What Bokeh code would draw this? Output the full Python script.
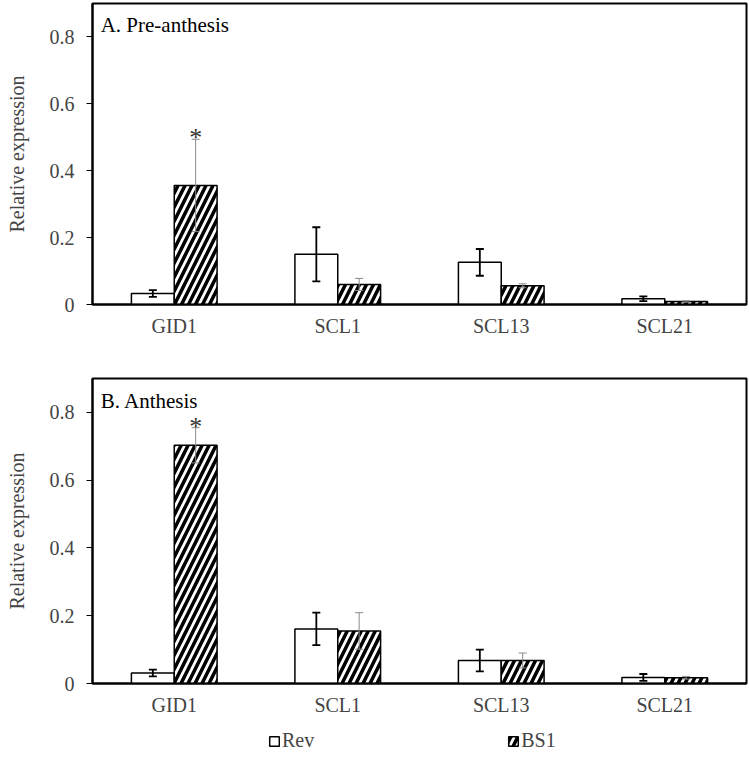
from bokeh.plotting import figure
from bokeh.layouts import column
from bokeh.models import (FactorRange, Range1d, FixedTicker, ColumnDataSource,
                          Legend, LegendItem, Label)
from bokeh.transform import dodge
from bokeh.embed import file_html
from bokeh.resources import INLINE

# Genes and relative expression (mean and error) for the two lines
genes = ["GID1", "SCL1", "SCL13", "SCL21"]

pre_rev = [0.033, 0.150, 0.126, 0.017]
pre_rev_err = [0.010, 0.081, 0.040, 0.007]
pre_bs1 = [0.356, 0.060, 0.056, 0.009]
pre_bs1_err = [0.138, 0.018, 0.006, 0.002]
pre_marks = ["*", "", "", ""]

ant_rev = [0.031, 0.161, 0.068, 0.018]
ant_rev_err = [0.010, 0.048, 0.032, 0.010]
ant_bs1 = [0.703, 0.155, 0.068, 0.017]
ant_bs1_err = [0.052, 0.054, 0.022, 0.004]
ant_marks = ["*", "", "", ""]

y_ticks = [0, 0.2, 0.4, 0.6, 0.8]
series_names = ["Rev", "BS1"]

FONT = "Liberation Serif"
FS = "20px"
BAR_W = 0.262
OFF = BAR_W / 2

REV_STYLE = dict(fill_color="white", line_color="black", line_width=1.5)
BS1_STYLE = dict(fill_color="white", line_color="black", line_width=1.5,
                 hatch_pattern="/", hatch_color="black",
                 hatch_weight=3.5, hatch_scale=14)


def panel(title, rev, rev_err, bs1, bs1_err, marks, height, b_top, b_bottom):
    src = ColumnDataSource(dict(
        gene=genes,
        rev=rev,
        rev_lo=[v - e for v, e in zip(rev, rev_err)],
        rev_hi=[v + e for v, e in zip(rev, rev_err)],
        bs1=bs1,
        bs1_lo=[v - e for v, e in zip(bs1, bs1_err)],
        bs1_hi=[v + e for v, e in zip(bs1, bs1_err)],
        mark=marks,
    ))
    p = figure(x_range=FactorRange(*genes), y_range=Range1d(0, 0.9),
               width=749, height=height, output_backend="svg",
               toolbar_location=None, min_border_left=92, min_border_right=3,
               min_border_top=b_top, min_border_bottom=b_bottom)
    p.background_fill_color = "white"
    p.border_fill_color = "white"
    p.outline_line_color = "black"
    p.outline_line_width = 2
    p.xgrid.visible = False
    p.ygrid.visible = False

    x_rev = dodge("gene", -OFF, range=p.x_range)
    x_bs1 = dodge("gene", OFF, range=p.x_range)

    p.vbar(x=x_rev, top="rev", width=BAR_W, source=src, **REV_STYLE)
    p.vbar(x=x_bs1, top="bs1", width=BAR_W, source=src, **BS1_STYLE)

    # error bars: Rev dark, BS1 light grey
    p.segment(x0=x_rev, x1=x_rev, y0="rev_lo", y1="rev_hi", source=src,
              line_color="black", line_width=1.8)
    for col in ("rev_lo", "rev_hi"):
        p.scatter(x=x_rev, y=col, marker="dash", size=8, source=src,
                  line_color="black", line_width=1.8)
    p.segment(x0=x_bs1, x1=x_bs1, y0="bs1_lo", y1="bs1_hi", source=src,
              line_color="#8a8a8a", line_width=1)
    for col in ("bs1_lo", "bs1_hi"):
        p.scatter(x=x_bs1, y=col, marker="dash", size=8, source=src,
                  line_color="#8a8a8a", line_width=1)

    p.text(x=x_bs1, y="bs1_hi", text="mark", source=src,
           text_font=FONT, text_font_size="26px", text_align="center",
           text_baseline="bottom", y_offset=13, text_color="#333333")

    p.add_layout(Label(x=0.05, y=0.835, text=title, text_font=FONT,
                       text_font_size="21px", text_baseline="middle",
                       text_color="black"))

    ax = p.yaxis[0]
    ax.ticker = FixedTicker(ticks=y_ticks)
    ax.major_label_overrides = {0: "0"}
    ax.axis_label = "Relative expression"
    ax.axis_label_text_font = FONT
    ax.axis_label_text_font_size = FS
    ax.axis_label_text_font_style = "normal"
    ax.axis_label_standoff = 19
    ax.major_label_text_font = FONT
    ax.major_label_text_font_size = FS
    ax.major_label_standoff = 12
    ax.major_tick_out = 6
    ax.major_tick_in = 0
    ax.minor_tick_line_color = None
    ax.axis_line_width = 2

    xa = p.xaxis[0]
    xa.major_label_text_font = FONT
    xa.major_label_text_font_size = FS
    xa.major_label_standoff = 4
    xa.major_tick_line_color = None
    xa.minor_tick_line_color = None
    xa.axis_line_width = 2
    return p


p1 = panel("A. Pre-anthesis", pre_rev, pre_rev_err, pre_bs1, pre_bs1_err,
           pre_marks, 350, 3, 46)
p2 = panel("B. Anthesis", ant_rev, ant_rev_err, ant_bs1, ant_bs1_err,
           ant_marks, 378, 28, 45)

# legend strip under the lower panel; its proxy bars hold no data
p3 = figure(width=749, height=44, x_range=Range1d(0, 1), y_range=Range1d(0, 1),
            x_axis_type=None, y_axis_type=None,
            output_backend="svg", toolbar_location=None,
            min_border_left=0, min_border_right=0, min_border_top=0,
            min_border_bottom=0)
p3.grid.visible = False
p3.outline_line_color = None
proxy = ColumnDataSource(dict(x=[float("nan")], top=[float("nan")]))
lr = p3.vbar(x="x", top="top", width=0.1, source=proxy, **REV_STYLE)
lb = p3.vbar(x="x", top="top", width=0.1, source=proxy, **BS1_STYLE)
legend = Legend(items=[LegendItem(label=series_names[0], renderers=[lr]),
                       LegendItem(label=series_names[1], renderers=[lb])],
                orientation="horizontal", location=(176, 20),
                spacing=193, glyph_width=12, glyph_height=12,
                label_standoff=2, padding=2, margin=0,
                border_line_color=None, background_fill_alpha=0,
                label_text_font=FONT, label_text_font_size=FS)
p3.add_layout(legend)

layout = column(p1, p2, p3, spacing=0)
open("out.html", "w").write(file_html(layout, INLINE))
